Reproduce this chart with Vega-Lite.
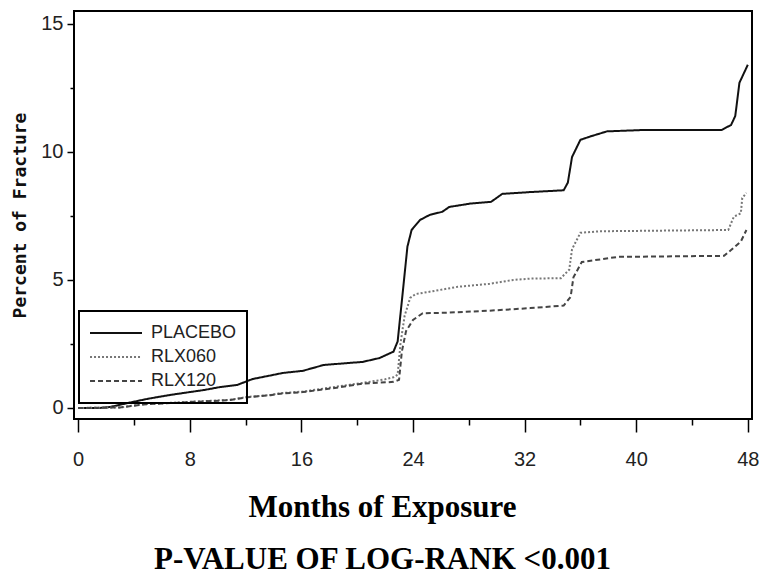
{
  "$schema": "https://vega.github.io/schema/vega-lite/v6.json",
  "autosize": "none",
  "width": 678,
  "height": 408,
  "padding": {"left": 74, "top": 11, "right": 8, "bottom": 156},
  "background": "white",
  "config": {"view": {"stroke": "black", "strokeWidth": 2}},
  "data": {"values": [
    {"group": "PLACEBO", "month": 0, "pct": 0},
    {"group": "PLACEBO", "month": 1.5, "pct": 0},
    {"group": "PLACEBO", "month": 2.3, "pct": 0.04},
    {"group": "PLACEBO", "month": 3.6, "pct": 0.2},
    {"group": "PLACEBO", "month": 5.0, "pct": 0.36},
    {"group": "PLACEBO", "month": 6.6, "pct": 0.51},
    {"group": "PLACEBO", "month": 9.0, "pct": 0.7},
    {"group": "PLACEBO", "month": 10.2, "pct": 0.82},
    {"group": "PLACEBO", "month": 11.4, "pct": 0.9},
    {"group": "PLACEBO", "month": 12.5, "pct": 1.13},
    {"group": "PLACEBO", "month": 14.7, "pct": 1.37},
    {"group": "PLACEBO", "month": 16.1, "pct": 1.45},
    {"group": "PLACEBO", "month": 17.6, "pct": 1.68},
    {"group": "PLACEBO", "month": 20.4, "pct": 1.8},
    {"group": "PLACEBO", "month": 21.6, "pct": 1.95},
    {"group": "PLACEBO", "month": 22.6, "pct": 2.2},
    {"group": "PLACEBO", "month": 22.9, "pct": 2.6},
    {"group": "PLACEBO", "month": 23.3, "pct": 4.7},
    {"group": "PLACEBO", "month": 23.6, "pct": 6.3},
    {"group": "PLACEBO", "month": 23.9, "pct": 6.95},
    {"group": "PLACEBO", "month": 24.5, "pct": 7.34},
    {"group": "PLACEBO", "month": 25.2, "pct": 7.54},
    {"group": "PLACEBO", "month": 26.1, "pct": 7.66},
    {"group": "PLACEBO", "month": 26.6, "pct": 7.85},
    {"group": "PLACEBO", "month": 28.1, "pct": 7.98},
    {"group": "PLACEBO", "month": 29.6, "pct": 8.05},
    {"group": "PLACEBO", "month": 30.4, "pct": 8.36},
    {"group": "PLACEBO", "month": 32.4, "pct": 8.43},
    {"group": "PLACEBO", "month": 34.8, "pct": 8.5},
    {"group": "PLACEBO", "month": 35.1, "pct": 8.8},
    {"group": "PLACEBO", "month": 35.4, "pct": 9.8},
    {"group": "PLACEBO", "month": 36.0, "pct": 10.47},
    {"group": "PLACEBO", "month": 36.7, "pct": 10.6},
    {"group": "PLACEBO", "month": 37.9, "pct": 10.8},
    {"group": "PLACEBO", "month": 40.3, "pct": 10.85},
    {"group": "PLACEBO", "month": 46.1, "pct": 10.85},
    {"group": "PLACEBO", "month": 46.8, "pct": 11.05},
    {"group": "PLACEBO", "month": 47.1, "pct": 11.4},
    {"group": "PLACEBO", "month": 47.4, "pct": 12.7},
    {"group": "PLACEBO", "month": 48.0, "pct": 13.4},
    {"group": "RLX060", "month": 0, "pct": 0},
    {"group": "RLX060", "month": 3, "pct": 0.02},
    {"group": "RLX060", "month": 4.7, "pct": 0.15},
    {"group": "RLX060", "month": 6.6, "pct": 0.2},
    {"group": "RLX060", "month": 8.25, "pct": 0.25},
    {"group": "RLX060", "month": 9.5, "pct": 0.28},
    {"group": "RLX060", "month": 10.9, "pct": 0.32},
    {"group": "RLX060", "month": 12.1, "pct": 0.43},
    {"group": "RLX060", "month": 13.8, "pct": 0.51},
    {"group": "RLX060", "month": 14.5, "pct": 0.58},
    {"group": "RLX060", "month": 16.1, "pct": 0.64},
    {"group": "RLX060", "month": 18.1, "pct": 0.8},
    {"group": "RLX060", "month": 20.4, "pct": 0.98},
    {"group": "RLX060", "month": 22.0, "pct": 1.12},
    {"group": "RLX060", "month": 22.6, "pct": 1.2},
    {"group": "RLX060", "month": 22.9, "pct": 1.3},
    {"group": "RLX060", "month": 23.1, "pct": 2.5},
    {"group": "RLX060", "month": 23.4, "pct": 3.6},
    {"group": "RLX060", "month": 23.8, "pct": 4.3},
    {"group": "RLX060", "month": 24.2, "pct": 4.45},
    {"group": "RLX060", "month": 25.0, "pct": 4.52},
    {"group": "RLX060", "month": 27.2, "pct": 4.73},
    {"group": "RLX060", "month": 29.5, "pct": 4.85},
    {"group": "RLX060", "month": 31.2, "pct": 5.0},
    {"group": "RLX060", "month": 32.4, "pct": 5.05},
    {"group": "RLX060", "month": 34.6, "pct": 5.07},
    {"group": "RLX060", "month": 35.2, "pct": 5.4},
    {"group": "RLX060", "month": 35.4, "pct": 6.2},
    {"group": "RLX060", "month": 36.0, "pct": 6.84},
    {"group": "RLX060", "month": 37.4, "pct": 6.9},
    {"group": "RLX060", "month": 46.6, "pct": 6.95},
    {"group": "RLX060", "month": 47.0, "pct": 7.47},
    {"group": "RLX060", "month": 47.5, "pct": 7.6},
    {"group": "RLX060", "month": 47.6, "pct": 8.2},
    {"group": "RLX060", "month": 47.9, "pct": 8.4},
    {"group": "RLX120", "month": 0, "pct": 0},
    {"group": "RLX120", "month": 3, "pct": 0.02},
    {"group": "RLX120", "month": 4.7, "pct": 0.14},
    {"group": "RLX120", "month": 6.6, "pct": 0.19},
    {"group": "RLX120", "month": 8.25, "pct": 0.24},
    {"group": "RLX120", "month": 9.5, "pct": 0.27},
    {"group": "RLX120", "month": 10.9, "pct": 0.31},
    {"group": "RLX120", "month": 12.1, "pct": 0.42},
    {"group": "RLX120", "month": 13.8, "pct": 0.5},
    {"group": "RLX120", "month": 14.5, "pct": 0.56},
    {"group": "RLX120", "month": 16.1, "pct": 0.62},
    {"group": "RLX120", "month": 18.1, "pct": 0.76},
    {"group": "RLX120", "month": 20.4, "pct": 0.95},
    {"group": "RLX120", "month": 22.6, "pct": 1.02},
    {"group": "RLX120", "month": 23.0, "pct": 1.1},
    {"group": "RLX120", "month": 23.2, "pct": 2.2},
    {"group": "RLX120", "month": 23.5, "pct": 3.0},
    {"group": "RLX120", "month": 24.0, "pct": 3.44},
    {"group": "RLX120", "month": 24.7, "pct": 3.7},
    {"group": "RLX120", "month": 26.5, "pct": 3.72},
    {"group": "RLX120", "month": 29.5, "pct": 3.8},
    {"group": "RLX120", "month": 32.4, "pct": 3.9},
    {"group": "RLX120", "month": 34.8, "pct": 4.0},
    {"group": "RLX120", "month": 35.3, "pct": 4.34},
    {"group": "RLX120", "month": 35.5, "pct": 5.1},
    {"group": "RLX120", "month": 36.1, "pct": 5.7},
    {"group": "RLX120", "month": 38.7, "pct": 5.9},
    {"group": "RLX120", "month": 46.3, "pct": 5.94},
    {"group": "RLX120", "month": 46.8, "pct": 6.17},
    {"group": "RLX120", "month": 47.5, "pct": 6.5},
    {"group": "RLX120", "month": 47.9, "pct": 6.95}
  ]},
  "mark": {"type": "line", "clip": true, "strokeWidth": 2},
  "encoding": {
    "x": {
      "field": "month", "type": "quantitative",
      "scale": {"domain": [-0.3, 48.3], "nice": false, "zero": false},
      "axis": {
        "values": [0, 4, 8, 12, 16, 20, 24, 28, 32, 36, 40, 44, 48],
        "labelExpr": "datum.value % 8 === 0 ? format(datum.value, 'd') : ''",
        "domain": false, "grid": false,
        "tickColor": "black", "tickWidth": 1.5,
        "tickSize": {"condition": {"test": "datum.value % 8 === 0", "value": 13}, "value": 6},
        "labelFont": "Liberation Sans Narrow, Arial Narrow, Liberation Sans",
        "labelFontSize": 20, "labelColor": "#222", "labelPadding": 17,
        "labelBaseline": "top",
        "title": ["Months of Exposure", "P-VALUE OF LOG-RANK <0.001"],
        "titleFont": "Liberation Serif", "titleFontSize": 31, "titleFontWeight": "bold",
        "titleColor": "black", "titleX": 308, "titleY": 88,
        "titleAlign": "center", "titleBaseline": "middle", "titleLineHeight": 52,
        "titleLimit": 1000
      }
    },
    "y": {
      "field": "pct", "type": "quantitative",
      "scale": {"domain": [-0.43, 15.5], "nice": false, "zero": false},
      "axis": {
        "values": [0, 2.5, 5, 7.5, 10, 12.5, 15],
        "labelExpr": "datum.value % 5 === 0 ? format(datum.value, 'd') : ''",
        "domain": false, "grid": false,
        "tickColor": "black", "tickWidth": 1.5,
        "tickSize": {"condition": {"test": "datum.value % 5 === 0", "value": 7}, "value": 4},
        "labelFont": "Liberation Sans Narrow, Arial Narrow, Liberation Sans",
        "labelFontSize": 20, "labelColor": "#222", "labelPadding": 4,
        "title": "Percent of Fracture",
        "titleFont": "DejaVu Sans Mono", "titleFontSize": 18, "titleFontWeight": "bold",
        "titleColor": "#111", "titleX": -54, "titleY": 204, "titleAngle": -90,
        "titleAlign": "center", "titleBaseline": "middle"
      }
    },
    "color": {
      "field": "group", "type": "nominal",
      "scale": {"domain": ["PLACEBO", "RLX060", "RLX120"], "range": ["#111111", "#777777", "#444444"]},
      "legend": {
        "title": null, "orient": "none", "legendX": 5, "legendY": 300,
        "strokeColor": "black", "padding": 10,
        "symbolType": "stroke", "symbolSize": 2700, "symbolStrokeWidth": 2,
        "clipHeight": 24, "rowPadding": 0, "labelOffset": 8,
        "labelFont": "Liberation Sans Narrow, Arial Narrow, Liberation Sans",
        "labelFontSize": 18, "labelColor": "#222",
        "encode": {"legend": {"update": {"strokeWidth": {"value": 2}}}}
      }
    },
    "strokeDash": {
      "field": "group", "type": "nominal",
      "scale": {"domain": ["PLACEBO", "RLX060", "RLX120"], "range": [[1, 0], [2, 2], [5, 3]]},
      "legend": {
        "title": null, "orient": "none", "legendX": 5, "legendY": 300,
        "strokeColor": "black", "padding": 10,
        "symbolType": "stroke", "symbolSize": 2700, "symbolStrokeWidth": 2,
        "clipHeight": 24, "rowPadding": 0, "labelOffset": 8,
        "labelFont": "Liberation Sans Narrow, Arial Narrow, Liberation Sans",
        "labelFontSize": 18, "labelColor": "#222",
        "encode": {"legend": {"update": {"strokeWidth": {"value": 2}}}}
      }
    }
  }
}
